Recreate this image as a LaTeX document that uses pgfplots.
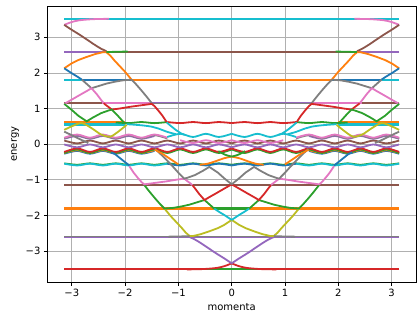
\documentclass[border=0pt]{standalone}
\usepackage{pgfplots}
\pgfplotsset{compat=1.18}
\usepackage{fontspec}
\setmainfont{DejaVu Sans}
\definecolor{C0}{HTML}{1F77B4}
\definecolor{C1}{HTML}{FF7F0E}
\definecolor{C2}{HTML}{2CA02C}
\definecolor{C3}{HTML}{D62728}
\definecolor{C4}{HTML}{9467BD}
\definecolor{C5}{HTML}{8C564B}
\definecolor{C6}{HTML}{E377C2}
\definecolor{C7}{HTML}{7F7F7F}
\definecolor{C8}{HTML}{BCBD22}
\definecolor{C9}{HTML}{17BECF}
\definecolor{gridgray}{HTML}{B0B0B0}
% each band piece is given for k in [-pi,0]; the spectrum is even in k,
% so the same piece is drawn again mirrored onto [0,pi]
\newcommand\seg[2]{%
  \addplot[#1] coordinates {#2};
  \addplot[#1, x filter/.expression={-x}] coordinates {#2};}
% flat pieces get a slightly heavier stroke so they rasterise evenly
\newcommand\lev[2]{\seg{#1, line width=2.1bp}{#2}}
\begin{document}
\begin{tikzpicture}
\begin{axis}[
  width=368.5bp, height=276.3bp, scale only axis,
  xmin=-3.456, xmax=3.456, ymin=-3.88, ymax=3.88,
  xtick={-3,-2,-1,0,1,2,3}, xticklabels={−3,−2,−1,0,1,2,3},
  ytick={-3,-2,-1,0,1,2,3}, yticklabels={−3,−2,−1,0,1,2,3},
  xtick pos=bottom, ytick pos=left,
  tick align=outside, major tick length=3.5bp,
  tick style={black, line width=0.8bp},
  axis line style={line width=0.8bp},
  grid=major, grid style={gridgray, line width=0.8bp},
  tick label style={font=\fontsize{10bp}{12bp}\selectfont},
  label style={font=\fontsize{10bp}{12bp}\selectfont},
  xlabel={momenta}, ylabel={energy},
  every axis plot/.append style={line width=1.8bp, mark=none},
]
\coordinate (bl) at (rel axis cs:0,0);
\coordinate (tr) at (rel axis cs:1,1);
% ---------------- flat Landau-like levels ----------------
\lev{C9}{(-3.1416,3.52)(0,3.52)}
\lev{C4}{(-3.1416,2.60)(0,2.60)}
\lev{C5}{(-2.35,2.60)(0,2.60)}
\lev{C9}{(-3.1416,1.81)(0,1.81)}
\lev{C0}{(-2.81,1.81)(0,1.81)}
\lev{C1}{(-1.88,1.81)(0,1.81)}
\lev{C5}{(-3.1416,1.15)(0,1.15)}
\lev{C6}{(-2.44,1.15)(-1.5,1.15)}
\lev{C4}{(-1.5,1.15)(0,1.15)}
\seg{C7, line width=1.0bp}{(-1.5,1.15)(0,1.15)}
\lev{C0}{(-3.1416,0.56)(-2.0,0.56)}
\lev{C9}{(-3.1416,0.55)(-2.0,0.55)}
\lev{C1}{(-3.1416,0.61)(-2.0,0.61)}
\seg{C2, smooth}{(-2.1750,0.61)(-1.9333,0.59)(-1.6916,0.62)(-1.4500,0.59)(-1.2083,0.62)}
\seg{C3, smooth}{(-1.2083,0.62)(-0.9666,0.59)(-0.7250,0.62)(-0.4833,0.59)(-0.2417,0.62)(0,0.59)}
\lev{C2}{(-3.1416,-3.52)(0,-3.52)}
\lev{C3}{(-3.1416,-3.52)(-0.5,-3.52)}
\lev{C4}{(-3.1416,-2.60)(0,-2.60)}
\seg{C7, line width=0.9bp}{(-3.1416,-2.60)(0,-2.60)}
\lev{C1}{(-3.1416,-1.81)(-0.33,-1.81)}
\lev{C2}{(-0.33,-1.81)(0,-1.81)}
\lev{C5}{(-3.1416,-1.14)(0,-1.14)}
% central bands (weakly dispersive, period 2pi/13)
\seg{C2, smooth}{(-3.1416,-0.54)(-2.8999,-0.58)(-2.6583,-0.54)(-2.4166,-0.58)(-2.1750,-0.54)(-1.9333,-0.58)(-1.6916,-0.54)(-1.4500,-0.58)(-1.2083,-0.54)(-0.9666,-0.58)(-0.7250,-0.54)(-0.4833,-0.58)(-0.2417,-0.54)(0,-0.58)}
\seg{C9, smooth}{(-3.1416,-0.55)(-2.8999,-0.60)(-2.6583,-0.55)(-2.4166,-0.60)(-2.1750,-0.55)(-1.9333,-0.60)(-1.6916,-0.55)(-1.4500,-0.60)(-1.2083,-0.55)}
\seg{C0, smooth}{(-1.2083,-0.55)(-0.9666,-0.60)(-0.7250,-0.55)(-0.4833,-0.60)(-0.2417,-0.55)(0,-0.60)}
\seg{C0, smooth}{(-3.1416,-0.27)(-2.8999,-0.19)(-2.6583,-0.27)(-2.4166,-0.19)(-2.1750,-0.27)(-1.9333,-0.19)(-1.6916,-0.27)(-1.4500,-0.19)}
\seg{C1, smooth}{(-3.1416,-0.25)(-2.8999,-0.17)(-2.6583,-0.25)(-2.4166,-0.17)(-2.1750,-0.25)(-1.9333,-0.17)(-1.6916,-0.25)(-1.4500,-0.17)}
\seg{C2, smooth}{(-3.1416,-0.25)(-2.8999,-0.15)(-2.6583,-0.25)(-2.4166,-0.15)(-2.1750,-0.25)(-1.9333,-0.15)(-1.6916,-0.25)(-1.4500,-0.15)(-1.2083,-0.25)(-0.9666,-0.15)(-0.7250,-0.25)(-0.4833,-0.15)(-0.2417,-0.25)(0,-0.15)}
\seg{C3, smooth}{(-3.1416,-0.22)(-2.8999,-0.12)(-2.6583,-0.22)(-2.4166,-0.12)(-2.1750,-0.22)(-1.9333,-0.12)(-1.6916,-0.22)(-1.4500,-0.12)(-1.2083,-0.22)(-0.9666,-0.12)(-0.7250,-0.22)(-0.4833,-0.12)(-0.2417,-0.22)(0,-0.12)}
\seg{C4, smooth}{(-3.1416,-0.01)(-2.8999,-0.09)(-2.6583,-0.01)(-2.4166,-0.09)(-2.1750,-0.01)(-1.9333,-0.09)(-1.6916,-0.01)(-1.4500,-0.09)(-1.2083,-0.01)(-0.9666,-0.09)(-0.7250,-0.01)(-0.4833,-0.09)(-0.2417,-0.01)(0,-0.09)}
\seg{C5, smooth}{(-3.1416,0.10)(-2.8999,0.02)(-2.6583,0.10)(-2.4166,0.02)(-2.1750,0.10)(-1.9333,0.02)(-1.6916,0.10)(-1.4500,0.02)(-1.2083,0.10)(-0.9666,0.02)(-0.7250,0.10)(-0.4833,0.02)(-0.2417,0.10)(0,0.02)}
\seg{C6, smooth}{(-0.9666,0.11)(-0.7250,0.03)(-0.4833,0.11)(-0.2417,0.03)(0,0.11)}
\seg{C4, smooth}{(-3.1416,0.15)(-2.8999,0.23)(-2.6583,0.15)(-2.4166,0.23)(-2.1750,0.15)(-1.9333,0.23)(-1.6916,0.15)(-1.4500,0.23)}
\seg{C7, smooth}{(-3.1416,0.16)(-2.8999,0.25)(-2.6583,0.16)(-2.4166,0.25)(-2.1750,0.16)(-1.9333,0.25)(-1.6916,0.16)(-1.4500,0.25)(-1.2083,0.16)}
\seg{C6, smooth}{(-3.1416,0.18)(-2.8999,0.27)(-2.6583,0.18)(-2.4166,0.27)(-2.1750,0.18)(-1.9333,0.27)(-1.6916,0.18)(-1.4500,0.27)(-1.2083,0.18)}
\seg{C9, smooth}{(-1.2083,0.20)(-0.9666,0.29)(-0.7250,0.20)(-0.4833,0.29)(-0.2417,0.20)(0,0.29)}
% ---------------- edge branches, upper half ----------------
\seg{C6, smooth}{(-3.1416,3.35)(-3.0,3.43)(-2.85,3.48)(-2.6,3.51)(-2.3,3.52)}
\seg{C5, smooth}{(-3.1416,3.35)(-3.0,3.21)(-2.85,3.07)(-2.7,2.92)(-2.56,2.78)(-2.45,2.68)(-2.35,2.61)}
\seg{C1}{(-3.1416,2.13)(-3.0,2.27)(-2.88,2.36)(-2.72,2.45)(-2.56,2.53)(-2.42,2.58)(-2.35,2.58)(-2.28,2.49)(-2.2,2.35)(-2.1,2.19)(-2.0,2.03)(-1.9,1.85)(-1.88,1.81)}
\seg{C2}{(-2.35,2.585)(-2.15,2.595)(-1.95,2.60)}
\seg{C0}{(-3.1416,2.13)(-3.0,1.99)(-2.9,1.9)(-2.81,1.81)}
\seg{C7}{(-2.81,1.81)(-2.72,1.69)(-2.63,1.57)(-2.5,1.63)(-2.35,1.7)(-2.2,1.75)(-2.05,1.79)(-1.88,1.81)(-1.8,1.69)(-1.7,1.52)(-1.6,1.34)(-1.5,1.15)}
\seg{C6}{(-3.1416,1.13)(-3.0,1.25)(-2.85,1.38)(-2.72,1.49)(-2.63,1.57)(-2.53,1.40)(-2.44,1.22)(-2.40,1.15)}
\seg{C3}{(-2.40,1.15)(-2.38,1.12)(-2.3,1.03)(-2.25,0.97)(-2.1,1.0)(-1.9,1.05)(-1.7,1.09)(-1.5,1.13)(-1.45,1.07)(-1.38,0.95)(-1.3,0.80)(-1.22,0.62)}
\seg{C2}{(-3.1416,1.13)(-3.0,0.96)(-2.88,0.80)(-2.72,0.64)(-2.6,0.75)(-2.45,0.87)(-2.3,0.95)(-2.25,0.97)(-2.15,0.82)(-2.03,0.62)}
\seg{C9}{(-1.22,0.61)(-1.15,0.52)(-1.05,0.40)(-0.95,0.30)(-0.88,0.26)}
\seg{C9, smooth}{(-1.97,0.56)(-1.7,0.53)(-1.5,0.49)(-1.38,0.44)(-1.2,0.34)(-1.05,0.28)}
\seg{C8, smooth}{(-3.1416,0.40)(-3.0,0.50)(-2.81,0.59)(-2.6,0.42)(-2.45,0.27)(-2.28,0.21)(-2.12,0.36)(-1.97,0.54)}
\seg{C7, smooth}{(-3.1416,0.35)(-3.0,0.25)(-2.85,0.14)(-2.69,0.03)}
% ---------------- edge branches, lower half ----------------
\seg{C3, smooth}{(0,-3.35)(-0.14,-3.43)(-0.29,-3.48)(-0.54,-3.51)(-0.84,-3.52)}
\seg{C4, smooth}{(0,-3.35)(-0.14,-3.21)(-0.29,-3.07)(-0.44,-2.92)(-0.58,-2.78)(-0.69,-2.68)(-0.79,-2.61)}
\seg{C8}{(0,-2.13)(-0.14,-2.27)(-0.26,-2.36)(-0.42,-2.45)(-0.58,-2.53)(-0.72,-2.58)(-0.79,-2.58)(-0.86,-2.49)(-0.94,-2.35)(-1.04,-2.19)(-1.14,-2.03)(-1.24,-1.85)(-1.26,-1.81)}
\seg{C7}{(-0.79,-2.585)(-0.99,-2.595)(-1.19,-2.60)}
\seg{C9}{(0,-2.13)(-0.14,-1.99)(-0.24,-1.9)(-0.33,-1.81)}
\seg{C2}{(-0.33,-1.81)(-0.42,-1.69)(-0.51,-1.57)(-0.64,-1.63)(-0.79,-1.7)(-0.94,-1.75)(-1.09,-1.79)(-1.26,-1.81)(-1.34,-1.69)(-1.44,-1.52)(-1.54,-1.34)(-1.64,-1.15)}
\seg{C3}{(0,-1.13)(-0.14,-1.25)(-0.29,-1.38)(-0.42,-1.49)(-0.51,-1.57)(-0.61,-1.40)(-0.70,-1.22)(-0.74,-1.15)}
\seg{C6}{(-0.74,-1.15)(-0.76,-1.12)(-0.84,-1.03)(-0.89,-0.97)(-1.04,-1.0)(-1.24,-1.05)(-1.44,-1.09)(-1.64,-1.13)(-1.69,-1.07)(-1.76,-0.95)(-1.84,-0.80)(-1.92,-0.62)}
\seg{C7}{(0,-1.13)(-0.14,-0.96)(-0.26,-0.80)(-0.42,-0.64)(-0.54,-0.75)(-0.69,-0.87)(-0.84,-0.95)(-0.89,-0.97)(-0.99,-0.82)(-1.11,-0.62)(-1.2,-0.48)(-1.32,-0.30)(-1.44,-0.13)}
\seg{C0}{(-1.92,-0.60)(-1.99,-0.52)(-2.09,-0.40)(-2.19,-0.28)(-2.26,-0.23)}
\seg{C1, smooth}{(0,-0.35)(-0.15,-0.40)(-0.3,-0.48)(-0.45,-0.55)(-0.6,-0.58)}
\seg{C1}{(-1.0,-0.57)(-1.15,-0.42)(-1.3,-0.27)(-1.44,-0.16)}
\seg{C2, smooth}{(0,-0.35)(-0.12,-0.30)(-0.25,-0.20)}
\end{axis}
\path ([shift={(-47.5bp,-40.7bp)}]bl) rectangle ([shift={(1.1bp,6bp)}]tr);
\end{tikzpicture}
\end{document}
